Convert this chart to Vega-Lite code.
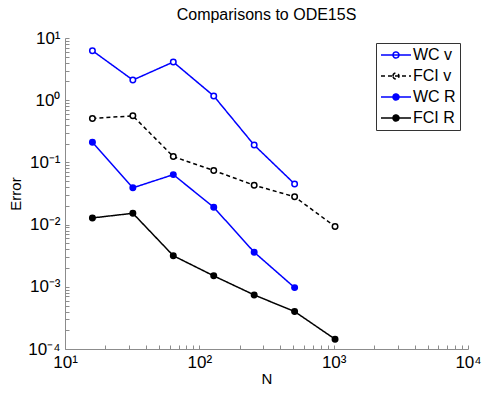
{
  "$schema": "https://vega.github.io/schema/vega-lite/v6.json",
  "width": 403,
  "height": 311,
  "autosize": {"type": "none"},
  "padding": {"left": 65, "top": 38, "right": 15, "bottom": 45},
  "title": {"text": "Comparisons to ODE15S", "fontSize": 16, "fontWeight": "normal", "font": "Liberation Sans", "anchor": "middle", "offset": 6, "color": "black"},
  "config": {
    "view": {"stroke": null},
    "font": "Liberation Sans",
    "axis": {"grid": false, "domainColor": "#8c8c8c", "tickColor": "#8c8c8c", "labelColor": "black", "titleColor": "black", "labelFont": "Liberation Sans", "titleFont": "Liberation Sans", "labelFontSize": 17, "titleFontSize": 15, "titleFontWeight": "normal", "tickSize": -4, "domainWidth": 1, "tickWidth": 1},
    "legend": {
      "orient": "none", "legendX": 311, "legendY": 5, "direction": "vertical",
      "strokeColor": "#333333", "fillColor": "white", "padding": 4,
      "symbolType": "M-1,0H1M-0.2,0A0.2,0.2,0,1,1,0.2,0A0.2,0.2,0,1,1,-0.2,0Z",
      "symbolSize": 900, "symbolStrokeWidth": 1.5, "clipHeight": 16, "rowPadding": 5,
      "labelFontSize": 16, "labelFont": "Liberation Sans", "labelColor": "black", "labelOffset": 1, "labelLimit": 200
    }
  },
  "data": {"values": [
    {"series": "WC v", "N": 16, "err": 6.25},
    {"series": "WC v", "N": 32, "err": 2.11},
    {"series": "WC v", "N": 64, "err": 4.11},
    {"series": "WC v", "N": 128, "err": 1.17},
    {"series": "WC v", "N": 256, "err": 0.19},
    {"series": "WC v", "N": 512, "err": 0.045},
    {"series": "FCI v", "N": 16, "err": 0.51},
    {"series": "FCI v", "N": 32, "err": 0.56},
    {"series": "FCI v", "N": 64, "err": 0.124},
    {"series": "FCI v", "N": 128, "err": 0.074},
    {"series": "FCI v", "N": 256, "err": 0.043},
    {"series": "FCI v", "N": 512, "err": 0.028},
    {"series": "FCI v", "N": 1024, "err": 0.0093},
    {"series": "WC R", "N": 16, "err": 0.21},
    {"series": "WC R", "N": 32, "err": 0.039},
    {"series": "WC R", "N": 64, "err": 0.0636},
    {"series": "WC R", "N": 128, "err": 0.019},
    {"series": "WC R", "N": 256, "err": 0.0036},
    {"series": "WC R", "N": 512, "err": 0.00097},
    {"series": "FCI R", "N": 16, "err": 0.0128},
    {"series": "FCI R", "N": 32, "err": 0.0152},
    {"series": "FCI R", "N": 64, "err": 0.00316},
    {"series": "FCI R", "N": 128, "err": 0.0015},
    {"series": "FCI R", "N": 256, "err": 0.00074},
    {"series": "FCI R", "N": 512, "err": 0.0004},
    {"series": "FCI R", "N": 1024, "err": 0.000144}
  ]},
  "encoding": {
    "x": {"field": "N", "type": "quantitative", "scale": {"type": "log", "domain": [10, 10000], "nice": false},
      "axis": {"title": "N", "titlePadding": 1, "labelPadding": 9,
        "values": [10,20,30,40,50,60,70,80,90,100,200,300,400,500,600,700,800,900,1000,2000,3000,4000,5000,6000,7000,8000,9000,10000],
        "labelExpr": "abs(log(datum.value)/LN10 - round(log(datum.value)/LN10)) < 1e-6 ? '10' + ['⁻⁴','⁻³','⁻²','⁻¹','⁰','¹','²','³','⁴'][round(log(datum.value)/LN10)+4] : ''",
        "labelFlush": false, "labelOverlap": false}},
    "y": {"field": "err", "type": "quantitative", "scale": {"type": "log", "domain": [0.0001, 10], "nice": false},
      "axis": {"title": "Error", "titlePadding": 4, "labelPadding": 9,
        "values": [0.0001,0.0002,0.0003,0.0004,0.0005,0.0006,0.0007,0.0008,0.0009,0.001,0.002,0.003,0.004,0.005,0.006,0.007,0.008,0.009,0.01,0.02,0.03,0.04,0.05,0.06,0.07,0.08,0.09,0.1,0.2,0.3,0.4,0.5,0.6,0.7,0.8,0.9,1,2,3,4,5,6,7,8,9,10],
        "labelExpr": "abs(log(datum.value)/LN10 - round(log(datum.value)/LN10)) < 1e-6 ? '10' + ['⁻⁴','⁻³','⁻²','⁻¹','⁰','¹','²','³','⁴'][round(log(datum.value)/LN10)+4] : ''",
        "labelFlush": false, "labelOverlap": false}}
  },
  "layer": [
    {
      "mark": {"type": "line", "strokeWidth": 1.5},
      "encoding": {
        "stroke": {"field": "series", "type": "nominal", "scale": {"domain": ["WC v", "FCI v", "WC R", "FCI R"], "range": ["#0000ff", "#000000", "#0000ff", "#000000"]}, "legend": {"title": null}},
        "strokeDash": {"field": "series", "type": "nominal", "scale": {"domain": ["WC v", "FCI v", "WC R", "FCI R"], "range": [[1, 0], [4, 3], [1, 0], [1, 0]]}, "legend": {"title": null}}
      }
    },
    {
      "mark": {"type": "point", "shape": "circle", "size": 30, "strokeWidth": 1.5, "opacity": 1},
      "encoding": {
        "stroke": {"field": "series", "type": "nominal", "legend": {"title": null}},
        "fill": {"field": "series", "type": "nominal", "scale": {"domain": ["WC v", "FCI v", "WC R", "FCI R"], "range": ["white", "white", "#0000ff", "#000000"]}, "legend": {"title": null}}
      }
    }
  ],
  "background": "white"
}
